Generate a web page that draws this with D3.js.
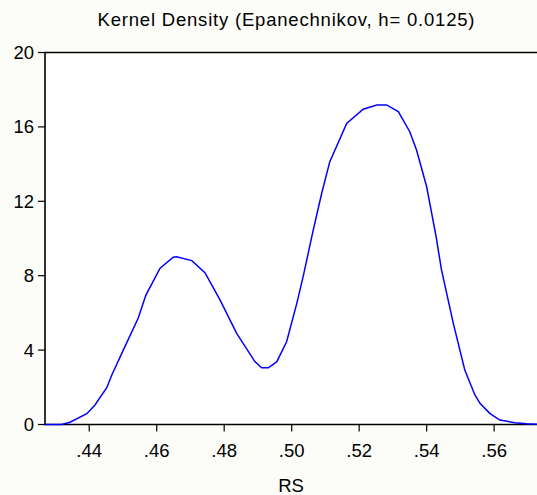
<!DOCTYPE html>
<html lang="en">
<head>
<meta charset="utf-8">
<title>Kernel Density</title>
<script src="https://cdn.jsdelivr.net/npm/d3@7"></script>
<style>
  body { margin: 0; background: #fcfcf8; }
  svg { display: block; }
  text { font-family: "Liberation Sans", Arial, sans-serif; fill: #000; }
</style>
</head>
<body>
<svg id="chart" width="537" height="495"></svg>
<script>
// values
var rsValues = [0.4269, 0.4318, 0.4343, 0.4393, 0.4417, 0.4452, 0.4467, 0.4501, 0.4545, 0.4568,
  0.4610, 0.4649, 0.4659, 0.4704, 0.4743, 0.4788, 0.4837, 0.4891, 0.4911, 0.4931,
  0.4956, 0.4985, 0.5015, 0.5034, 0.5064, 0.5089, 0.5113, 0.5163, 0.5212, 0.5252,
  0.5281, 0.5316, 0.5350, 0.5370, 0.5400, 0.5428, 0.5444, 0.5479, 0.5513, 0.5543,
  0.5558, 0.5587, 0.5617, 0.5661, 0.5696, 0.5727];
var density = [0, 0, 0.12, 0.58, 1.05, 1.98, 2.66, 4.0, 5.71, 6.96,
  8.40, 8.99, 9.02, 8.81, 8.16, 6.69, 4.90, 3.38, 3.05, 3.05,
  3.38, 4.45, 6.5, 7.95, 10.46, 12.43, 14.13, 16.19, 16.95, 17.18,
  17.18, 16.82, 15.74, 14.76, 12.78, 10.10, 8.31, 5.44, 2.93, 1.59,
  1.14, 0.60, 0.24, 0.10, 0.04, 0.01];
var xTicks = [0.44, 0.46, 0.48, 0.50, 0.52, 0.54, 0.56];
var yTicks = [0, 4, 8, 12, 16, 20];
var titleText = "Kernel Density (Epanechnikov, h=  0.0125)";
var xLabel = "RS";

var svg = d3.select("#chart");
var pLeft = 45, pRight = 537, pTop = 52.5, pBottom = 424.5;

var x = d3.scaleLinear().domain([0.4269, 0.5727]).range([pLeft, pRight]);
var y = d3.scaleLinear().domain([0, 20]).range([pBottom, pTop]);

// plot area
svg.append("rect")
  .attr("x", pLeft).attr("y", pTop)
  .attr("width", pRight - pLeft).attr("height", pBottom - pTop)
  .attr("fill", "#fff");

// frame lines (top, left, bottom)
svg.append("path")
  .attr("d", "M" + pRight + "," + pTop + "H" + pLeft + "V" + pBottom + "H" + pRight)
  .attr("fill", "none").attr("stroke", "#000").attr("stroke-width", 1.6);

// x ticks
svg.selectAll(".xt").data(xTicks).enter().append("line")
  .attr("x1", function(d) { return x(d); }).attr("x2", function(d) { return x(d); })
  .attr("y1", pBottom).attr("y2", pBottom + 7)
  .attr("stroke", "#000").attr("stroke-width", 1.2);
svg.selectAll(".xl").data(xTicks).enter().append("text")
  .attr("x", function(d) { return x(d); }).attr("y", pBottom + 32)
  .attr("text-anchor", "middle").attr("font-size", 18.5)
  .text(function(d) { return d3.format(".2f")(d).replace(/^0/, ""); });

// y ticks
svg.selectAll(".yt").data(yTicks).enter().append("line")
  .attr("x1", pLeft - 7).attr("x2", pLeft)
  .attr("y1", function(d) { return y(d); }).attr("y2", function(d) { return y(d); })
  .attr("stroke", "#000").attr("stroke-width", 1.2);
svg.selectAll(".yl").data(yTicks).enter().append("text")
  .attr("x", pLeft - 11).attr("y", function(d) { return y(d) + 6.5; })
  .attr("text-anchor", "end").attr("font-size", 18.5)
  .text(function(d) { return d; });

// density curve
var line = d3.line()
  .x(function(d, i) { return x(rsValues[i]); })
  .y(function(d) { return y(d); });
svg.append("path")
  .datum(density)
  .attr("d", line)
  .attr("fill", "none").attr("stroke", "#0000ff").attr("stroke-width", 1.5);

// title and axis label
svg.append("text")
  .attr("x", 286).attr("y", 26)
  .attr("text-anchor", "middle").attr("font-size", 18.5)
  .attr("textLength", 377).attr("lengthAdjust", "spacing")
  .text(titleText);
svg.append("text")
  .attr("x", 291).attr("y", 492)
  .attr("text-anchor", "middle").attr("font-size", 18.5)
  .text(xLabel);
</script>
</body>
</html>
